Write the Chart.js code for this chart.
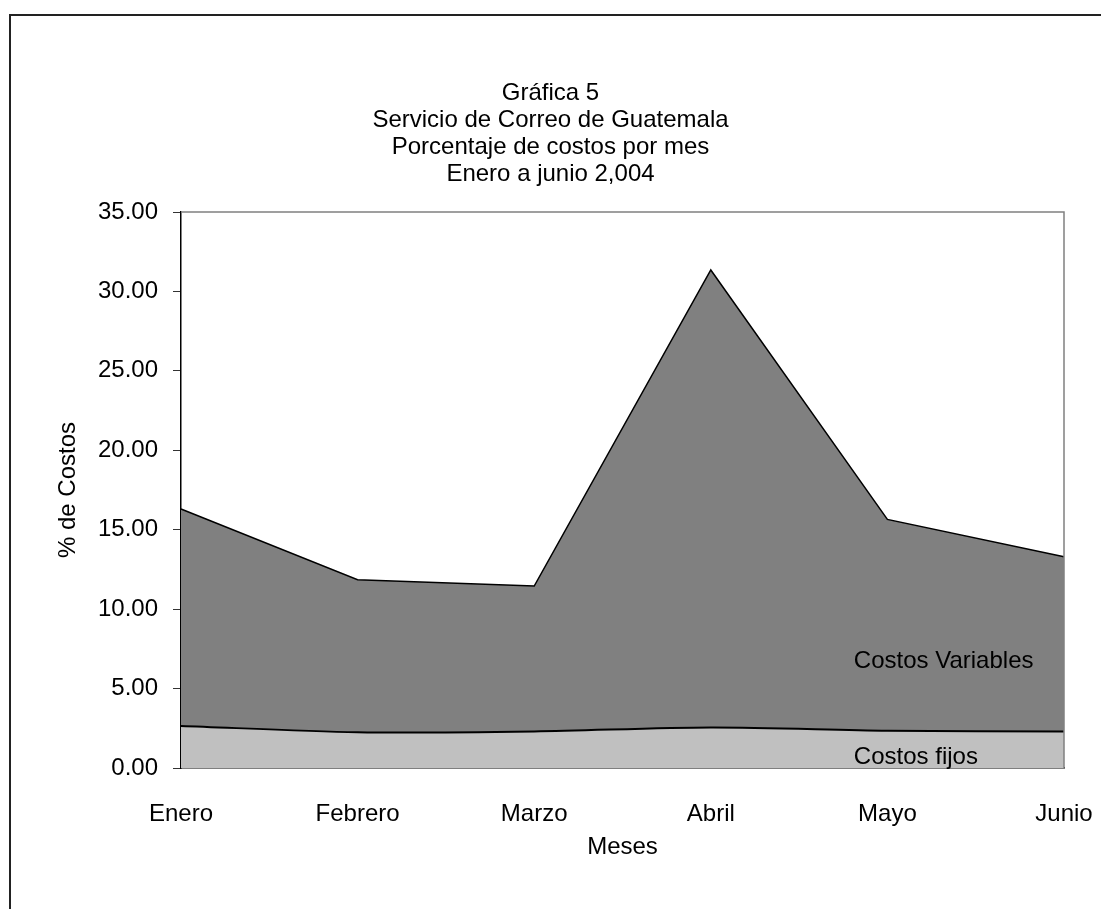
<!DOCTYPE html>
<html>
<head>
<meta charset="utf-8">
<title>Gráfica 5</title>
<script src="https://cdn.jsdelivr.net/npm/chart.js@4.4.1/dist/chart.umd.min.js"></script>
<style>
  html, body { margin: 0; padding: 0; background: #fff; }
  canvas { display: block; }
</style>
</head>
<body>
<canvas id="costChart" width="1101" height="909"></canvas>
<script>
// Datos
const meses = ['Enero', 'Febrero', 'Marzo', 'Abril', 'Mayo', 'Junio'];
const costosFijos = [2.65, 2.25, 2.30, 2.55, 2.35, 2.30];
const costosVariables = [13.65, 9.60, 9.15, 28.80, 13.30, 11.00];
const tituloLineas = ['Gráfica 5', 'Servicio de Correo de Guatemala', 'Porcentaje de costos por mes', 'Enero a junio 2,004'];

const FONT = "'Liberation Sans', Arial, sans-serif";
const FS = 24;

// Marco exterior, borde del área de trazado y etiquetas de las series
const decorPlugin = {
    id: 'decor',
    beforeDraw(chart) {
        const ctx = chart.ctx;
        ctx.save();
        ctx.strokeStyle = '#222';
        ctx.lineWidth = 2;
        ctx.strokeRect(10, 15, 1200, 1000);
        ctx.restore();
    },
    afterDatasetsDraw(chart) {
        const ctx = chart.ctx;
        const a = chart.chartArea;
        const x = chart.scales.x;
        const y = chart.scales.y;
        ctx.save();
        ctx.strokeStyle = '#808080';
        ctx.lineWidth = 1.5;
        ctx.beginPath();
        ctx.moveTo(a.left, a.top);
        ctx.lineTo(a.right, a.top);
        ctx.lineTo(a.right, a.bottom);
        ctx.stroke();

        ctx.fillStyle = '#000';
        ctx.font = FS + 'px ' + FONT;
        ctx.textAlign = 'left';
        ctx.textBaseline = 'middle';
        ctx.fillText('Costos Variables', x.getPixelForValue(3.81), y.getPixelForValue(6.7));
        ctx.fillText('Costos fijos', x.getPixelForValue(3.81), y.getPixelForValue(0.7));
        ctx.restore();
    }
};

const ctx = document.getElementById('costChart').getContext('2d');

new Chart(ctx, {
    type: 'line',
    data: {
        labels: meses,
        datasets: [
            {
                label: 'Costos fijos',
                data: costosFijos,
                backgroundColor: '#C0C0C0',
                borderColor: '#000',
                borderWidth: 2,
                pointRadius: 0,
                fill: 'origin',
                tension: 0.3
            },
            {
                label: 'Costos Variables',
                data: costosVariables,
                backgroundColor: '#808080',
                borderColor: '#000',
                borderWidth: 1.5,
                pointRadius: 0,
                fill: '-1',
                tension: 0
            }
        ]
    },
    options: {
        responsive: false,
        animation: false,
        layout: {
            padding: { top: 80, left: 10, right: 10, bottom: 48 }
        },
        scales: {
            x: {
                offset: false,
                grid: { display: false },
                border: { display: true, color: '#000', width: 1.5 },
                ticks: {
                    color: '#000',
                    padding: 24,
                    maxRotation: 0,
                    autoSkip: false,
                    font: { family: FONT, size: FS, lineHeight: 1.2 }
                },
                title: {
                    display: true,
                    text: 'Meses',
                    color: '#000',
                    padding: { top: 0, bottom: 0 },
                    font: { family: FONT, size: FS, lineHeight: 1.1 }
                },
                afterFit(scale) {
                    scale.height = 93;
                    scale.paddingLeft = 0;
                    scale.paddingRight = 37;
                }
            },
            y: {
                stacked: true,
                min: 0,
                max: 35,
                grid: {
                    drawOnChartArea: false,
                    drawTicks: true,
                    tickLength: 8,
                    color: '#333'
                },
                border: { display: true, color: '#000', width: 1.5 },
                ticks: {
                    stepSize: 5,
                    color: '#000',
                    padding: 15,
                    font: { family: FONT, size: FS },
                    callback: v => v.toFixed(2)
                },
                title: {
                    display: true,
                    text: '% de Costos',
                    color: '#000',
                    padding: { top: 45, bottom: 0 },
                    font: { family: FONT, size: FS, lineHeight: 1.1 }
                },
                afterFit(scale) {
                    scale.width = 171;
                }
            }
        },
        plugins: {
            legend: { display: false },
            tooltip: { enabled: false },
            title: {
                display: true,
                text: tituloLineas,
                color: '#000',
                padding: { top: 0, bottom: 24 },
                font: { family: FONT, size: FS, weight: 'normal', lineHeight: 1.125 }
            }
        }
    },
    plugins: [decorPlugin]
});
</script>
</body>
</html>
